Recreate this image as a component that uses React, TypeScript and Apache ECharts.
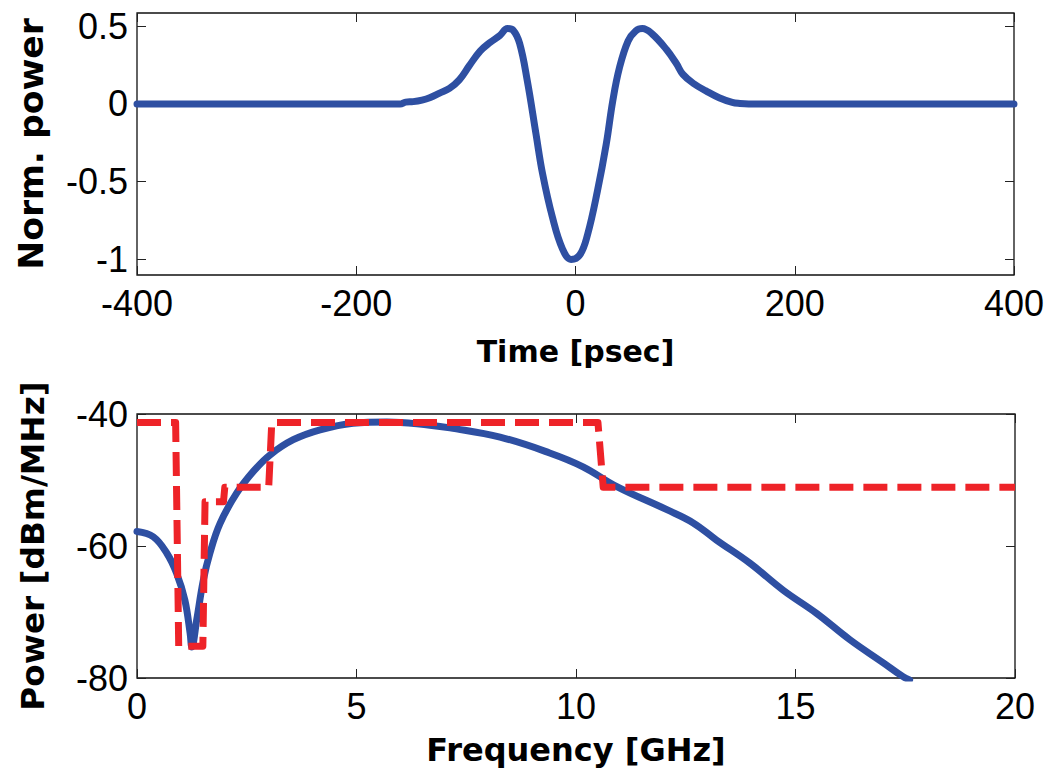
import { useEffect, useRef } from "react";
import * as echarts from "echarts";

// Time-domain pulse (normalised power vs time)
const timePs = [
  -400, -300, -200, -160, -155, -148, -140, -133, -124, -115, -106, -97, -87, -78, -69, -62,
  -57, -51, -44, -36, -30, -21, -12, -4, 4, 11, 20, 28, 34, 40, 48, 55, 61, 70, 83, 92, 98,
  108, 119, 131, 143, 150, 158, 200, 300, 400,
];
const normPower = [
  0, 0, 0, 0, 0.012, 0.015, 0.025, 0.04, 0.07, 0.1, 0.155, 0.245, 0.34, 0.395, 0.44, 0.485,
  0.475, 0.39, 0.15, -0.195, -0.45, -0.73, -0.93, -1.0, -0.97, -0.84, -0.56, -0.26, 0.02, 0.23,
  0.405, 0.47, 0.485, 0.45, 0.35, 0.26, 0.19, 0.13, 0.084, 0.04, 0.01, 0.003, 0, 0, 0, 0,
];
const timeTicks = [-400, -200, 0, 200, 400];
const normPowerTicks = [-1, -0.5, 0, 0.5];

// Power spectral density of the pulse
const freqGHz = [
  0, 0.37, 0.68, 0.9, 1.09, 1.21, 1.25, 1.36, 1.51, 1.66, 1.89, 2.27, 2.65, 3.03, 3.56, 4.17,
  4.92, 5.69, 6.67, 7.13, 8.27, 9.4, 10.16, 10.93, 12.07, 12.67, 13.2, 13.96, 14.72, 15.48,
  16.24, 17.0, 17.45, 17.6,
];
const spectrumDbm = [
  -57.8, -58.6, -61.1, -64.1, -68.2, -73.2, -75.3, -71.2, -65.2, -61.1, -56.6, -52.0, -48.7,
  -46.2, -43.9, -42.4, -41.4, -41.2, -41.7, -42.1, -43.5, -45.9, -48.0, -51.0, -54.5, -56.5,
  -59.1, -62.6, -66.7, -70.2, -74.2, -77.7, -79.8, -80.3,
];

// Emission mask (dashed)
const maskFreqGHz = [0, 0.88, 0.95, 1.5, 1.55, 1.97, 2.0, 3.0, 3.07, 10.5, 10.62, 20];
const maskDbm = [-41.3, -41.3, -75.2, -75.2, -53.3, -53.3, -51.1, -51.1, -41.3, -41.3, -51.1, -51.1];

const freqTicks = [0, 5, 10, 15, 20];
const dbmTicks = [-80, -60, -40];

const BLUE = "#2E4FA2";
const RED = "#EE2328";

const tickFont = {
  fontFamily: "'Liberation Sans', Arial, sans-serif",
  fontSize: 36,
  color: "#000",
};

const nameFont = (size: number) => ({
  fontFamily: "'DejaVu Sans', sans-serif",
  fontWeight: "bold" as const,
  fontSize: size,
  color: "#000",
});

const tickStyle = (values: number[]) => ({
  show: true,
  inside: true,
  length: 9,
  customValues: values,
  lineStyle: { color: "#222", width: 1 },
});

const hiddenLine = { show: false, onZero: false };

export default function App() {
  const ref = useRef<HTMLDivElement>(null);

  useEffect(() => {
    document.body.style.margin = "0";
    const chart = echarts.init(ref.current!, null, { renderer: "svg" });

    const gridBox = {
      show: true,
      borderColor: "#111",
      borderWidth: 1.3,
      backgroundColor: "transparent",
    };

    const option = {
      animation: false,
      backgroundColor: "#fff",
      grid: [
        { ...gridBox, left: 137, top: 13, width: 877, height: 262 },
        { ...gridBox, left: 137, top: 414, width: 878, height: 264 },
      ],
      xAxis: [
        {
          gridIndex: 0,
          type: "value",
          position: "bottom",
          min: -400,
          max: 400,
          axisLine: hiddenLine,
          axisTick: tickStyle(timeTicks),
          axisLabel: { ...tickFont, margin: 10, customValues: timeTicks },
          splitLine: { show: false },
          name: "Time [psec]",
          nameLocation: "middle",
          nameGap: 61,
          nameTextStyle: nameFont(30),
        },
        {
          gridIndex: 0,
          type: "value",
          position: "top",
          min: -400,
          max: 400,
          axisLine: hiddenLine,
          axisTick: tickStyle(timeTicks),
          axisLabel: { show: false },
          splitLine: { show: false },
        },
        {
          gridIndex: 1,
          type: "value",
          position: "bottom",
          min: 0,
          max: 20,
          axisLine: hiddenLine,
          axisTick: tickStyle(freqTicks),
          axisLabel: { ...tickFont, margin: 10, customValues: freqTicks },
          splitLine: { show: false },
          name: "Frequency [GHz]",
          nameLocation: "middle",
          nameGap: 56,
          nameTextStyle: nameFont(32),
        },
        {
          gridIndex: 1,
          type: "value",
          position: "top",
          min: 0,
          max: 20,
          axisLine: hiddenLine,
          axisTick: tickStyle(freqTicks),
          axisLabel: { show: false },
          splitLine: { show: false },
        },
      ],
      yAxis: [
        {
          gridIndex: 0,
          type: "value",
          position: "left",
          min: -1.1,
          max: 0.585,
          axisLine: hiddenLine,
          axisTick: tickStyle(normPowerTicks),
          axisLabel: { ...tickFont, margin: 9, customValues: normPowerTicks },
          splitLine: { show: false },
          name: "Norm. power",
          nameLocation: "middle",
          nameGap: 89,
          nameRotate: 90,
          nameTextStyle: nameFont(34.5),
        },
        {
          gridIndex: 0,
          type: "value",
          position: "right",
          min: -1.1,
          max: 0.585,
          axisLine: hiddenLine,
          axisTick: tickStyle(normPowerTicks),
          axisLabel: { show: false },
          splitLine: { show: false },
        },
        {
          gridIndex: 1,
          type: "value",
          position: "left",
          min: -80,
          max: -40,
          axisLine: hiddenLine,
          axisTick: tickStyle(dbmTicks),
          axisLabel: { ...tickFont, margin: 9, customValues: dbmTicks },
          splitLine: { show: false },
          name: "Power [dBm/MHz]",
          nameLocation: "middle",
          nameGap: 88,
          nameRotate: 90,
          nameTextStyle: nameFont(32.7),
        },
        {
          gridIndex: 1,
          type: "value",
          position: "right",
          min: -80,
          max: -40,
          axisLine: hiddenLine,
          axisTick: tickStyle(dbmTicks),
          axisLabel: { show: false },
          splitLine: { show: false },
        },
      ],
      series: [
        {
          type: "line",
          xAxisIndex: 0,
          yAxisIndex: 0,
          data: timePs.map((t, i) => [t, normPower[i]]),
          symbol: "none",
          smooth: 0.4,
          lineStyle: { color: BLUE, width: 7, cap: "round", join: "round" },
          z: 2,
        },
        {
          type: "line",
          xAxisIndex: 2,
          yAxisIndex: 2,
          data: freqGHz.map((f, i) => [f, spectrumDbm[i]]),
          symbol: "none",
          smooth: 0.4,
          lineStyle: { color: BLUE, width: 7, cap: "round", join: "round" },
          z: 2,
        },
        {
          type: "line",
          xAxisIndex: 2,
          yAxisIndex: 2,
          data: maskFreqGHz.map((f, i) => [f, maskDbm[i]]),
          symbol: "none",
          lineStyle: { color: RED, width: 7, type: [24, 10], join: "round" },
          z: 3,
        },
      ],
    };

    chart.setOption(option as any);
    return () => chart.dispose();
  }, []);

  return <div ref={ref} style={{ width: 1049, height: 771 }} />;
}
